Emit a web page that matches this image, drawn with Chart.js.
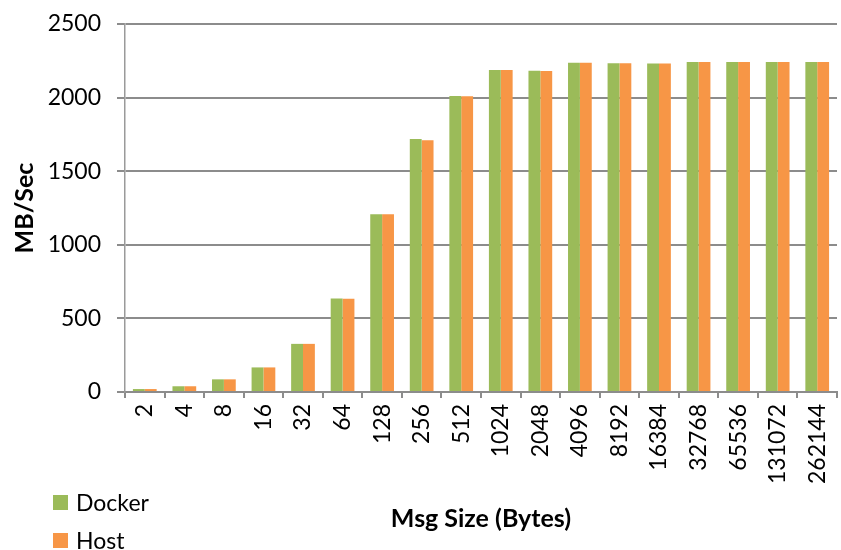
<!DOCTYPE html>
<html>
<head>
<meta charset="utf-8">
<script src="https://cdn.jsdelivr.net/npm/chart.js@4"></script>
<style>
  html, body { margin: 0; padding: 0; background: #fff; }
  #wrap { position: relative; width: 841px; height: 550px; }
  #legend { position: absolute; left: 53px; top: 483px; font-family: Lato, sans-serif; font-size: 23px; color: #000; }
  #legend div { height: 38px; line-height: 28px; display: flex; align-items: center; }
  #legend span.sw { display: inline-block; width: 15px; height: 15px; margin-right: 8px; }
</style>
</head>
<body>
<div id="wrap">
  <canvas id="chart" width="841" height="550"></canvas>
  <div id="legend"></div>
</div>
<script>
// message sizes (bytes)
const sizes = ['2', '4', '8', '16', '32', '64', '128', '256', '512', '1024', '2048',
  '4096', '8192', '16384', '32768', '65536', '131072', '262144'];

// throughput in MB/Sec
const docker = [20, 39, 86, 167, 327, 635, 1208, 1718, 2011, 2188, 2183, 2236, 2233, 2232, 2241, 2241, 2241, 2241];
const host = [20, 39, 86, 167, 327, 633, 1208, 1711, 2010, 2187, 2181, 2236, 2233, 2232, 2241, 2241, 2241, 2241];

const seriesNames = ['Docker', 'Host'];
const seriesColors = ['#9bbb59', '#f79646'];

const gridGray = '#8c8c8c';
const font = 'Lato, sans-serif';

const ctx = document.getElementById('chart').getContext('2d');
new Chart(ctx, {
  type: 'bar',
  data: {
    labels: sizes,
    datasets: [
      { label: seriesNames[0], data: docker, backgroundColor: seriesColors[0] },
      { label: seriesNames[1], data: host, backgroundColor: seriesColors[1] }
    ]
  },
  options: {
    responsive: false,
    animation: false,
    layout: { padding: { left: 0, right: 4, top: 24, bottom: 0 } },
    categoryPercentage: 0.6,
    barPercentage: 1.0,
    plugins: {
      legend: { display: false },
      tooltip: { enabled: false }
    },
    scales: {
      x: {
        grid: { display: true, drawOnChartArea: false, drawTicks: true, tickLength: 6, color: gridGray, lineWidth: 2 },
        border: { color: gridGray, width: 2 },
        ticks: { color: '#000', font: { family: font, size: 23 }, minRotation: 90, maxRotation: 90, padding: 6, autoSkip: false },
        title: { display: true, text: 'Msg Size (Bytes)', color: '#000', font: { family: font, size: 25, weight: 'bold' }, padding: { top: 0, bottom: 16 } },
        afterFit: s => { s.height = 158; s.paddingLeft = 0; s.paddingRight = 0; }
      },
      y: {
        min: 0,
        max: 2500,
        grid: { color: gridGray, lineWidth: 2, tickLength: 8 },
        border: { color: '#9a9a9a', width: 1.5 },
        ticks: { stepSize: 500, color: '#000', font: { family: font, size: 23 }, padding: 16, callback: v => String(v) },
        title: { display: true, text: 'MB/Sec', color: '#000', font: { family: font, size: 25, weight: 'bold' }, padding: { top: 10, bottom: 0 } },
        afterFit: s => { s.width = 125; s.paddingTop = 0; s.paddingBottom = 0; }
      }
    }
  }
});

// legend stacked at bottom-left, as in the original
const legend = document.getElementById('legend');
seriesNames.forEach((name, i) => {
  const row = document.createElement('div');
  row.innerHTML = `<span class="sw" style="background:${seriesColors[i]}"></span>${name}`;
  legend.appendChild(row);
});
</script>
</body>
</html>
